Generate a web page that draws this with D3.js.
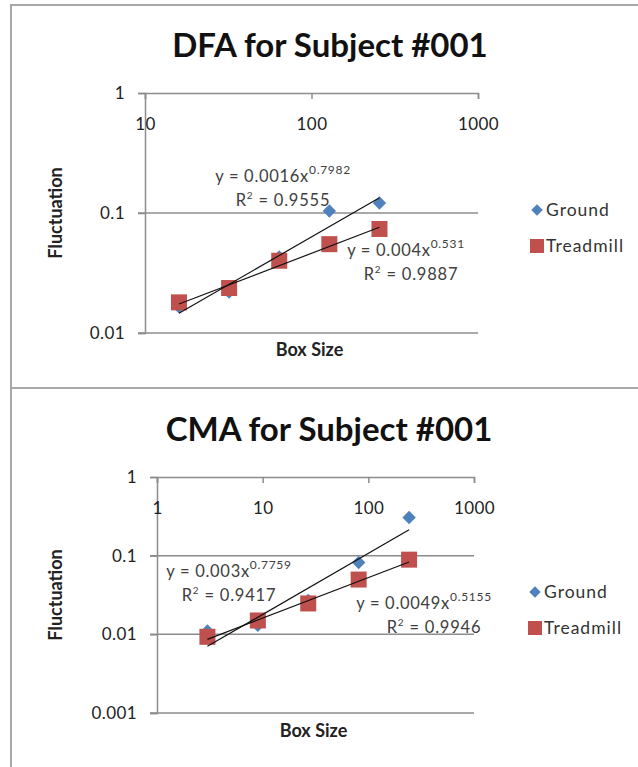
<!DOCTYPE html>
<html>
<head>
<meta charset="utf-8">
<script src="https://cdn.jsdelivr.net/npm/d3@7"></script>
<style>
  body { margin: 0; background: #fff; }
  svg { display: block; font-family: Lato, "Open Sans", sans-serif; }
</style>
</head>
<body>
<svg id="chart" width="638" height="767"></svg>
<script>
// DFA panel values
const dfaBox = [16, 32, 64, 128, 256];
const dfaGround = [0.0165, 0.022, 0.043, 0.104, 0.121];
const dfaTreadmill = [0.018, 0.0237, 0.040, 0.055, 0.0736];
const dfaXTicks = [10, 100, 1000];
const dfaYTicks = [0.01, 0.1, 1];

// CMA panel values
const cmaBox = [3, 9, 27, 81, 243];
const cmaGround = [0.011, 0.013, 0.027, 0.082, 0.305];
const cmaTreadmill = [0.0093, 0.015, 0.0247, 0.0497, 0.089];
const cmaXTicks = [1, 10, 100, 1000];
const cmaYTicks = [0.001, 0.01, 0.1, 1];

// power-law trendline coefficients, as printed on the chart
const dfaFitGround = {a: 0.0016, b: 0.7982, r2: 0.9555};
const dfaFitTreadmill = {a: 0.004, b: 0.531, r2: 0.9887};
const cmaFitGround = {a: 0.003, b: 0.7759, r2: 0.9417};
const cmaFitTreadmill = {a: 0.0049, b: 0.5155, r2: 0.9946};

const seriesNames = ["Ground", "Treadmill"];
const blue = "#4f81bd", red = "#c0504d";
const axisGrey = "#8c8c8c";

const svg = d3.select("#chart");

// outer frame lines
svg.append("line").attr("x1", 11).attr("x2", 638).attr("y1", 5).attr("y2", 5)
    .attr("stroke", "#a8a8a8").attr("stroke-width", 2);
svg.append("line").attr("x1", 11).attr("x2", 11).attr("y1", 4).attr("y2", 767)
    .attr("stroke", "#a8a8a8").attr("stroke-width", 2);
svg.append("line").attr("x1", 11).attr("x2", 638).attr("y1", 388).attr("y2", 388)
    .attr("stroke", "#a8a8a8").attr("stroke-width", 2);

function fmt(v) {
    return String(v);
}

function drawPanel(p) {
    const g = svg.append("g");
    const x = d3.scaleLog().domain(p.xDomain).range([p.left, p.right]);
    const y = d3.scaleLog().domain(p.yDomain).range([p.bottom, p.top]);

    // title
    g.append("text")
        .attr("x", p.titleX).attr("y", p.titleY)
        .attr("text-anchor", "middle")
        .attr("font-size", 33).attr("font-weight", "bold")
        .attr("fill", "#111")
        .text(p.title);

    // horizontal gridlines (below the top axis)
    g.selectAll(".grid").data(p.yTicks.slice(0, -1)).join("line")
        .attr("x1", p.left - 7).attr("x2", p.right)
        .attr("y1", d => y(d)).attr("y2", d => y(d))
        .attr("stroke", axisGrey).attr("stroke-width", 1.5);

    // y axis at the left
    const yAxis = d3.axisLeft(y).tickValues(p.yTicks).tickFormat(fmt).tickSize(7).tickPadding(13);
    const ya = g.append("g").attr("transform", `translate(${p.left},0)`).call(yAxis);
    ya.select(".domain").attr("stroke", axisGrey).attr("stroke-width", 1.5);
    ya.selectAll(".tick line").attr("stroke", axisGrey).attr("stroke-width", 1.5);
    ya.selectAll("text").attr("font-size", 17).attr("fill", "#222")
        .attr("letter-spacing", 0.4).attr("font-family", "Lato, sans-serif");

    // x axis sits at the top (value 1), ticks inward, labels below
    const xAxis = d3.axisBottom(x).tickValues(p.xTicks).tickFormat(fmt).tickSize(6).tickPadding(19);
    const xa = g.append("g").attr("transform", `translate(0,${p.top})`).call(xAxis);
    xa.select(".domain").attr("stroke", axisGrey).attr("stroke-width", 1.5);
    xa.selectAll(".tick line").attr("stroke", axisGrey).attr("stroke-width", 1.5);
    xa.selectAll("text").attr("font-size", 17).attr("fill", "#222")
        .attr("letter-spacing", 0.4).attr("font-family", "Lato, sans-serif");

    // axis titles
    g.append("text")
        .attr("transform", `translate(${p.yTitleX},${(p.top + p.bottom) / 2}) rotate(-90)`)
        .attr("text-anchor", "middle").attr("font-size", 18).attr("font-weight", "bold")
        .attr("fill", "#222").text("Fluctuation");
    g.append("text")
        .attr("x", (p.left + p.right) / 2 - 2).attr("y", p.xTitleY)
        .attr("text-anchor", "middle").attr("font-size", 18).attr("font-weight", "bold")
        .attr("fill", "#222").text("Box Size");

    // markers: ground diamonds first, treadmill squares on top
    const diamond = d3.symbol().type(d3.symbolDiamond2).size(115);
    g.selectAll(".ground").data(p.box.map((b, i) => [b, p.ground[i]])).join("path")
        .attr("d", diamond)
        .attr("transform", d => `translate(${x(d[0])},${y(d[1])})`)
        .attr("fill", blue);
    g.selectAll(".tread").data(p.box.map((b, i) => [b, p.treadmill[i]])).join("rect")
        .attr("x", d => x(d[0]) - 8).attr("y", d => y(d[1]) - 8)
        .attr("width", 16).attr("height", 16)
        .attr("fill", red);

    // trendlines y = a * x^b across the data range
    const ext = d3.extent(p.box);
    [p.fitGround, p.fitTreadmill].forEach(fit => {
        g.append("path")
            .attr("d", d3.line()
                .x(d => x(d))
                .y(d => y(fit.a * Math.pow(d, fit.b)))(ext))
            .attr("stroke", "#111").attr("stroke-width", 1.2).attr("fill", "none");
    });

    // equation labels
    function eq(fit, ex, ey) {
        const t = g.append("text").attr("x", ex).attr("y", ey)
            .attr("text-anchor", "middle").attr("font-size", 16.5)
            .attr("letter-spacing", 0.7).attr("fill", "#404040");
        t.append("tspan").text(`y = ${fit.a}x`);
        t.append("tspan").attr("dy", -8).attr("font-size", 12).text(fit.bText);
        const r = g.append("text").attr("x", ex + fit.rdx).attr("y", ey + 24)
            .attr("text-anchor", "middle").attr("font-size", 16.5)
            .attr("letter-spacing", 0.8).attr("fill", "#404040");
        r.append("tspan").text("R");
        r.append("tspan").attr("dy", -7).attr("font-size", 10).text("2");
        r.append("tspan").attr("dy", 7).text(` = ${fit.r2}`);
    }
    eq(Object.assign({bText: p.bTextG, rdx: p.rdxG}, p.fitGround), p.eqG[0], p.eqG[1]);
    eq(Object.assign({bText: p.bTextT, rdx: p.rdxT}, p.fitTreadmill), p.eqT[0], p.eqT[1]);

    // legend
    const lg = g.append("g");
    lg.append("path").attr("d", d3.symbol().type(d3.symbolDiamond2).size(85))
        .attr("transform", `translate(${p.legX},${p.legY})`).attr("fill", blue);
    lg.append("rect").attr("x", p.legX - 7).attr("y", p.legY + 36 - 7)
        .attr("width", 14).attr("height", 14).attr("fill", red);
    lg.selectAll("text").data(seriesNames).join("text")
        .attr("x", p.legX + 9).attr("y", (d, i) => p.legY + i * 36 + 6)
        .attr("font-size", 17.5).attr("letter-spacing", 1).attr("fill", "#333")
        .text(d => d);
}

drawPanel({
    title: "DFA for Subject #001", titleX: 330, titleY: 57,
    xDomain: [10, 1000], yDomain: [0.01, 1],
    left: 145, right: 478, top: 93, bottom: 333,
    xTicks: dfaXTicks, yTicks: dfaYTicks,
    box: dfaBox, ground: dfaGround, treadmill: dfaTreadmill,
    fitGround: dfaFitGround, fitTreadmill: dfaFitTreadmill,
    bTextG: "0.7982", bTextT: "0.531", rdxG: 0, rdxT: 5,
    eqG: [283, 182], eqT: [406, 256],
    yTitleX: 62, xTitleY: 356,
    legX: 537, legY: 210
});

drawPanel({
    title: "CMA for Subject #001", titleX: 329, titleY: 441,
    xDomain: [1, 1000], yDomain: [0.001, 1],
    left: 157, right: 474, top: 477, bottom: 713,
    xTicks: cmaXTicks, yTicks: cmaYTicks,
    box: cmaBox, ground: cmaGround, treadmill: cmaTreadmill,
    fitGround: cmaFitGround, fitTreadmill: cmaFitTreadmill,
    bTextG: "0.7759", bTextT: "0.5155", rdxG: 0, rdxT: 10,
    eqG: [229, 577], eqT: [424, 609],
    yTitleX: 62, xTitleY: 737,
    legX: 535, legY: 592
});
</script>
</body>
</html>
